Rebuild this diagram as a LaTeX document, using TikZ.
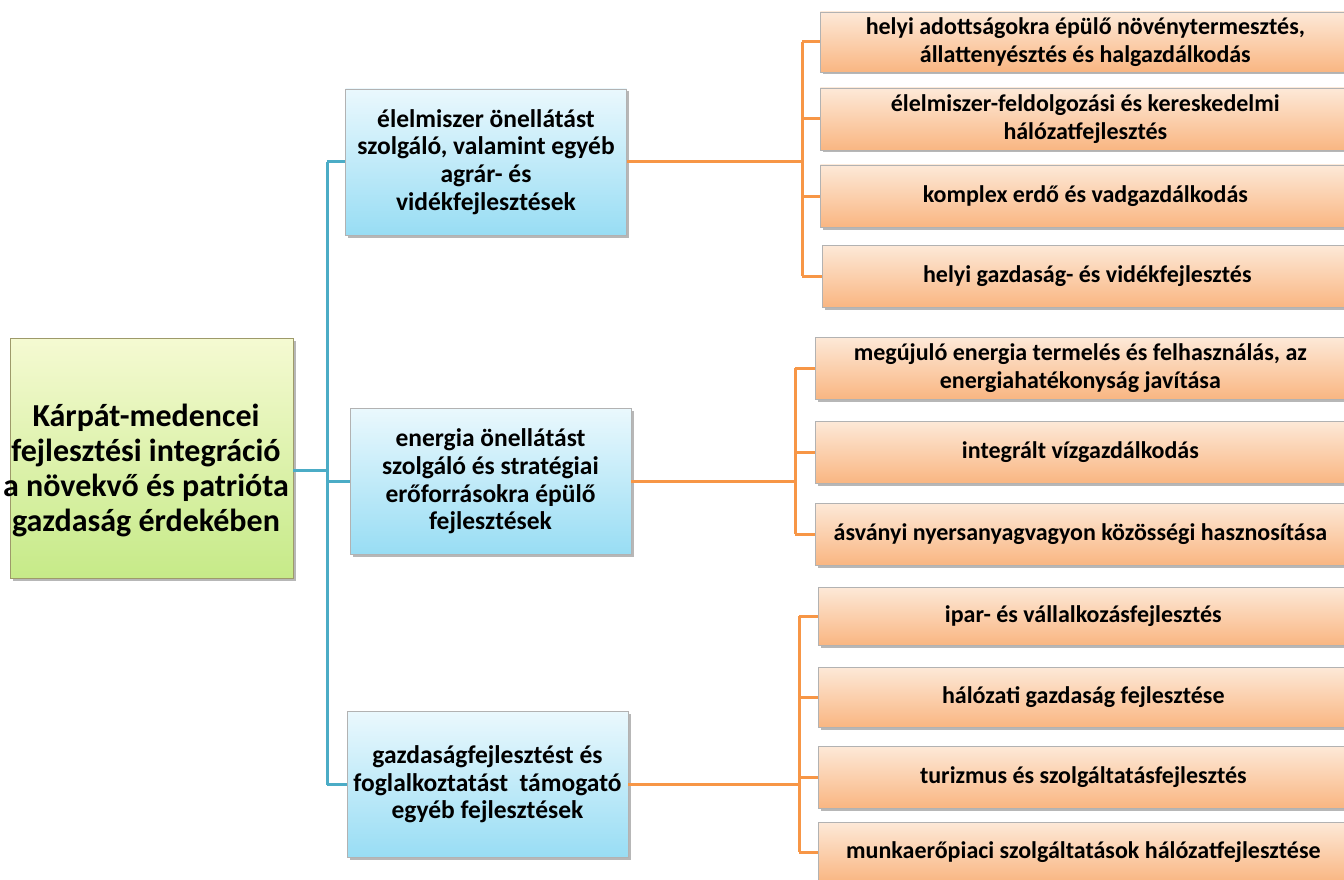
\documentclass[tikz,border=0pt]{standalone}
\usepackage{fontspec}
\setmainfont{Carlito}
\usetikzlibrary{shadows}
\definecolor{tealline}{HTML}{4BACC6}
\definecolor{orangeline}{HTML}{F79646}
\definecolor{roottop}{HTML}{F5FAD2}
\definecolor{rootbot}{HTML}{C6EA88}
\definecolor{midtop}{HTML}{EAF8FD}
\definecolor{midbot}{HTML}{98DDF4}
\definecolor{leaftop}{HTML}{FDE9D8}
\definecolor{leafbot}{HTML}{F9B682}
\tikzset{
  box/.style={draw=gray!60, line width=0.7pt, align=center, inner sep=2pt,
    drop shadow={shadow xshift=2.5pt, shadow yshift=-2.5pt, fill=gray!70, opacity=0.8}},
  rootbox/.style={box, draw=black!45!olive!60, minimum width=283pt, minimum height=240pt,
    top color=roottop, bottom color=rootbot},
  roottext/.style={align=center, inner sep=0pt, font=\bfseries\fontsize{32}{35}\selectfont},
  midbox/.style={box, minimum width=281pt, minimum height=146pt,
    top color=midtop, bottom color=midbot,
    font=\bfseries\fontsize{25.5}{27.7}\selectfont},
  leafbox/.style={box, anchor=west, minimum width=530pt, minimum height=62pt,
    top color=leaftop, bottom color=leafbot,
    font=\bfseries\fontsize{24}{28.5}\selectfont},
  tree/.style={line width=3pt},
}
\begin{document}
\begin{tikzpicture}[x=1pt,y=-1pt]
  \useasboundingbox (0,0) rectangle (1344,880);
  \clip (0,0) rectangle (1344,880);
  \fill[white] (0,0) rectangle (1344,880);

  % gyoker es kozepso szint
  \node[rootbox] (root) at (151.5,458) {};
  \node[roottext] (roottxt) at (146,470) {Kárpát-medencei\\fejlesztési integráció\\a növekvő és patrióta\\gazdaság érdekében};
  \node[midbox] (elel) at (486,162) {élelmiszer önellátást\\szolgáló, valamint egyéb\\agrár- és\\vidékfejlesztések};
  \node[midbox] (ener) at (490.5,481.5) {energia önellátást\\szolgáló és stratégiai\\erőforrásokra épülő\\fejlesztések};
  \node[midbox] (gazd) at (487.5,784.5) {gazdaságfejlesztést és\\foglalkoztatást~ támogató\\egyéb fejlesztések};

  % levelek
  \node[leafbox, minimum height=60pt] (e1) at (820,42) {helyi adottságokra épülő növénytermesztés,\\állattenyésztés és halgazdálkodás};
  \node[leafbox] (e2) at (820,119) {élelmiszer-feldolgozási és kereskedelmi\\hálózatfejlesztés};
  \node[leafbox] (e3) at (820,196) {komplex erdő és vadgazdálkodás};
  \node[leafbox] (e4) at (822,276) {helyi gazdaság- és vidékfejlesztés};

  \node[leafbox] (n1) at (815,368) {megújuló energia termelés és felhasználás, az\\energiahatékonyság javítása};
  \node[leafbox] (n2) at (815,452) {integrált vízgazdálkodás};
  \node[leafbox] (n3) at (815,534) {ásványi nyersanyagvagyon közösségi hasznosítása};

  \node[leafbox, minimum height=58pt] (g1) at (818,616) {ipar- és vállalkozásfejlesztés};
  \node[leafbox, minimum height=60pt] (g2) at (818,697) {hálózati gazdaság fejlesztése};
  \node[leafbox] (g3) at (818,777) {turizmus és szolgáltatásfejlesztés};
  \node[leafbox, minimum height=60pt] (g4) at (818,852) {munkaerőpiaci szolgáltatások hálózatfejlesztése};

  % kek fa
  \coordinate (tb) at (327,470);
  \draw[tree, tealline] (tb |- elel) -- (tb |- gazd);
  \draw[tree, tealline] (root.east |- tb) -- (tb);
  \draw[tree, tealline] (tb |- elel) -- (elel.west);
  \draw[tree, tealline] (tb |- ener) -- (ener.west);
  \draw[tree, tealline] (tb |- gazd) -- (gazd.west);

  % narancs fak
  \coordinate (ob1) at (802,0);
  \draw[tree, orangeline] (ob1 |- e1) -- (ob1 |- e4);
  \draw[tree, orangeline] (elel.east) -- (ob1 |- elel);
  \foreach \n in {e1,e2,e3,e4} \draw[tree, orangeline] (ob1 |- \n) -- (\n.west);

  \coordinate (ob2) at (795,0);
  \draw[tree, orangeline] (ob2 |- n1) -- (ob2 |- n3);
  \draw[tree, orangeline] (ener.east) -- (ob2 |- ener);
  \foreach \n in {n1,n2,n3} \draw[tree, orangeline] (ob2 |- \n) -- (\n.west);

  \coordinate (ob3) at (799,0);
  \draw[tree, orangeline] (ob3 |- g1) -- (ob3 |- g4);
  \draw[tree, orangeline] (gazd.east) -- (ob3 |- gazd);
  \foreach \n in {g1,g2,g3,g4} \draw[tree, orangeline] (ob3 |- \n) -- (\n.west);
\end{tikzpicture}
\end{document}
